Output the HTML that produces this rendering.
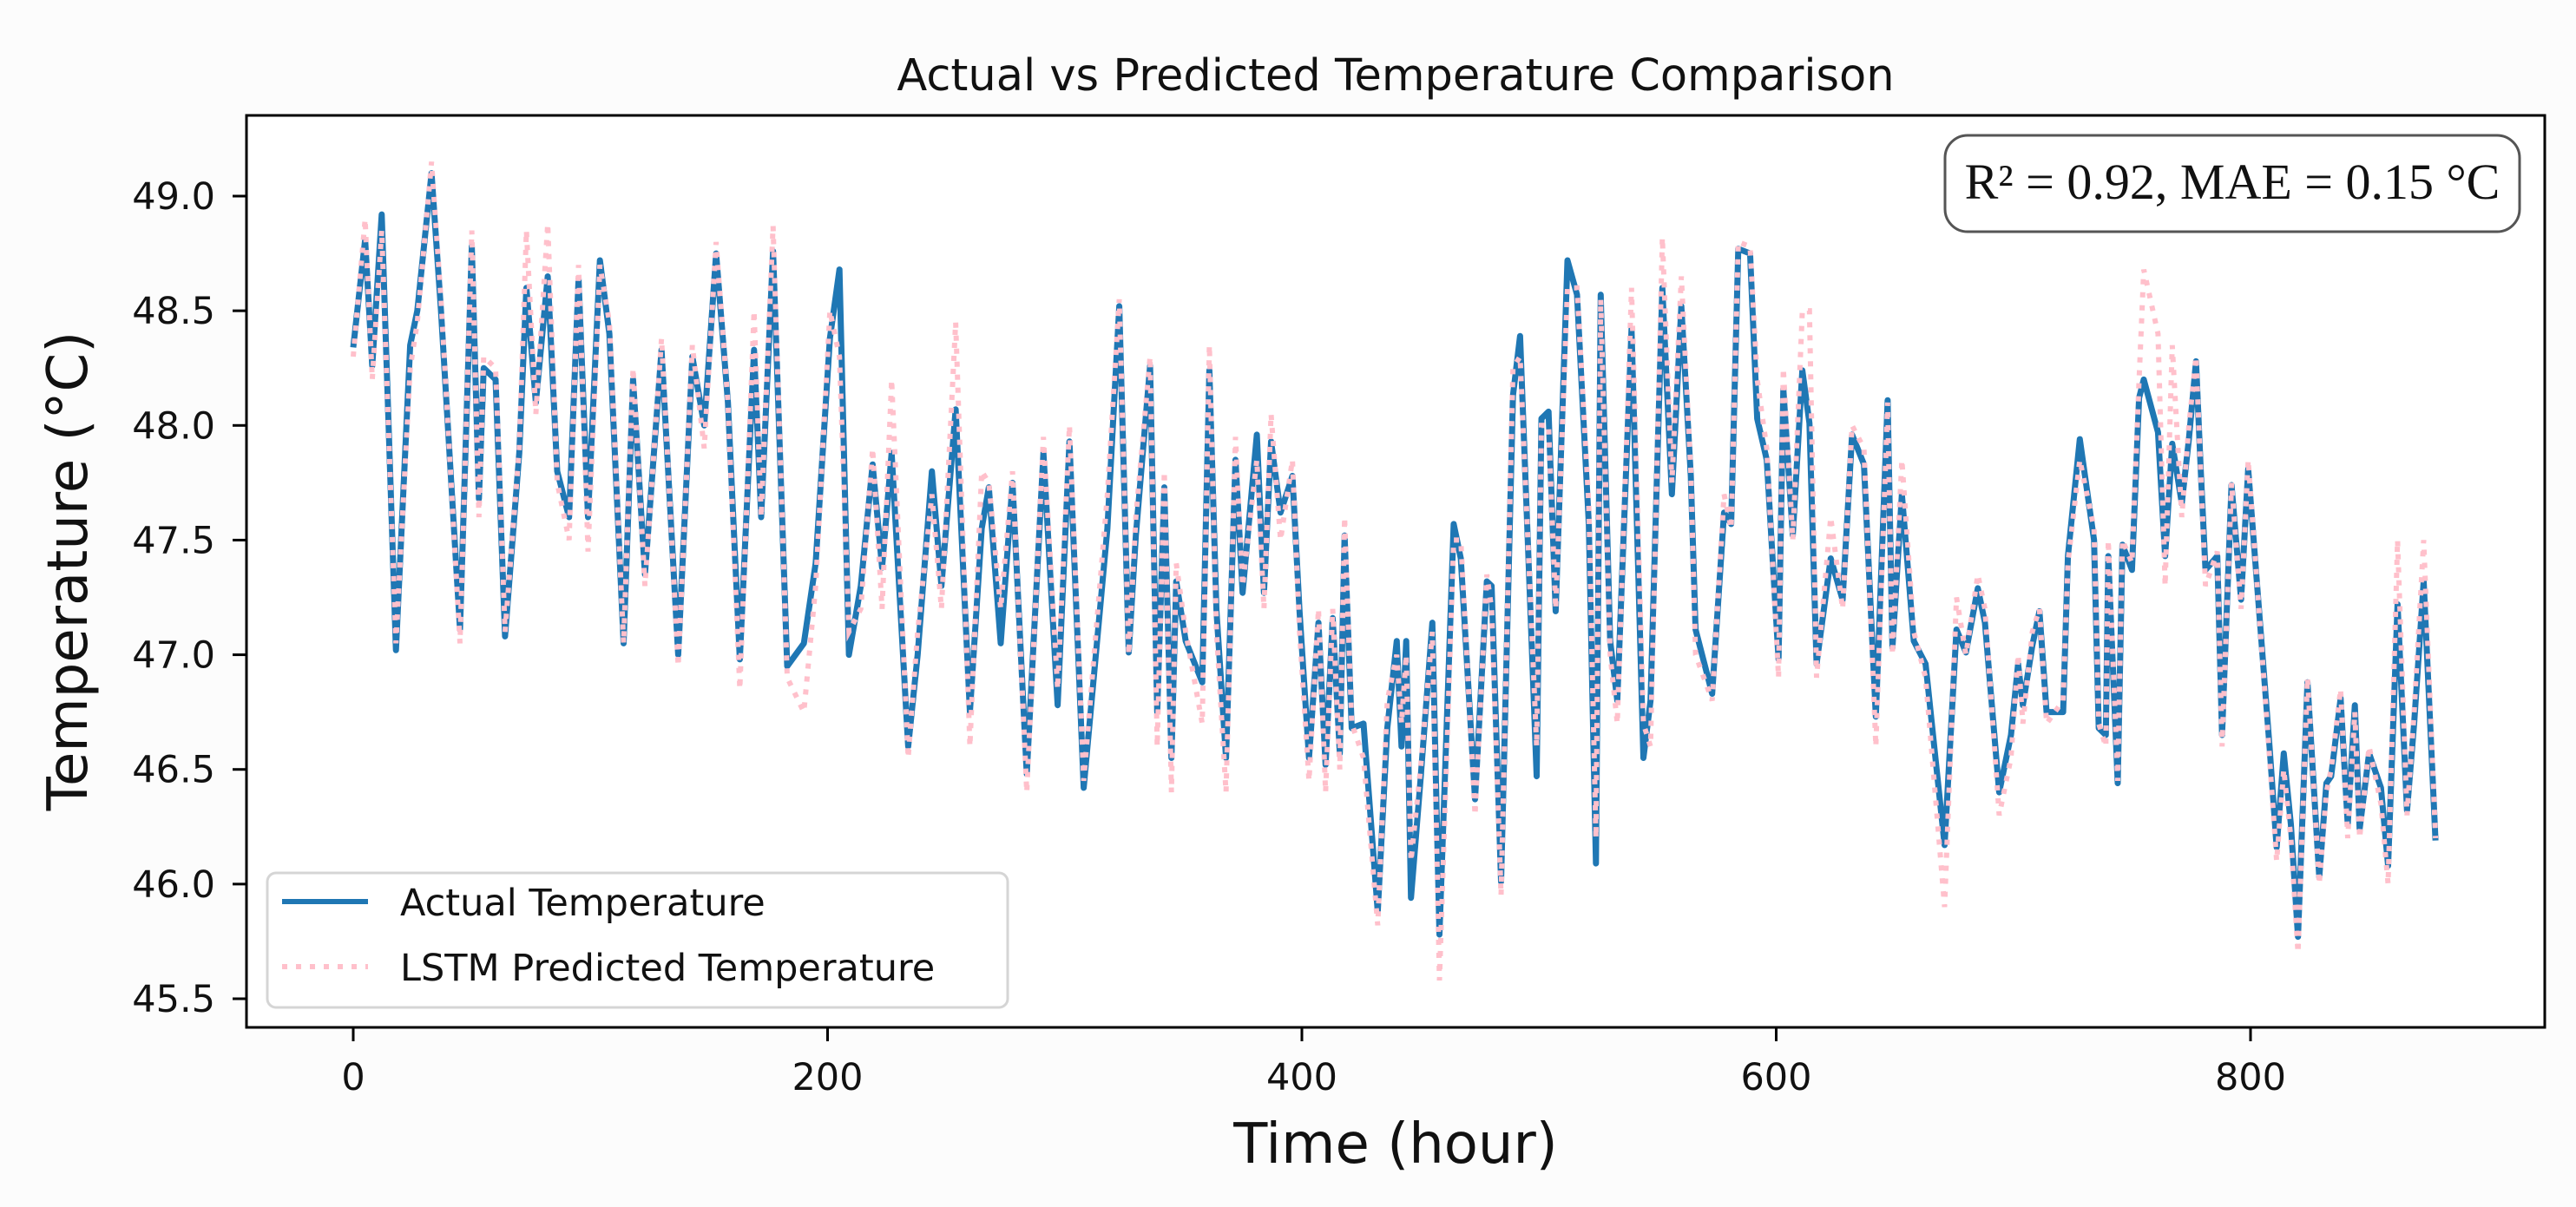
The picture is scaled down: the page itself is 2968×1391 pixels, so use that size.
<!DOCTYPE html>
<html><head><meta charset="utf-8"><style>
html,body{margin:0;padding:0;background:#fcfcfc;}
svg{display:block;}
</style></head><body>
<svg id="chart" width="2968" height="1391" viewBox="0 0 2968 1391" xmlns="http://www.w3.org/2000/svg" font-family="'DejaVu Sans','Liberation Sans',sans-serif">
<rect x="0" y="0" width="2968" height="1391" fill="#fcfcfc"/>
<rect x="284" y="133" width="2648" height="1051" fill="#ffffff"/>
<g id="series"></g>
<g id="axes"></g>
<rect x="284" y="133" width="2648" height="1051" fill="none" stroke="#000" stroke-width="3"/>
<text x="1608" y="104" text-anchor="middle" font-size="51" fill="#111">Actual vs Predicted Temperature Comparison</text>
<text x="1608" y="1340" text-anchor="middle" font-size="64" fill="#111">Time (hour)</text>
<text transform="translate(100,658) rotate(-90)" text-anchor="middle" font-size="64" fill="#111">Temperature (°C)</text>
<g>
<rect x="308" y="1006" width="853" height="155" rx="10" fill="#ffffff" fill-opacity="0.85" stroke="#d5d5d5" stroke-width="3"/>
<line x1="325" y1="1039" x2="424" y2="1039" stroke="#1f77b4" stroke-width="6"/>
<text x="461" y="1055" font-size="43" fill="#111">Actual Temperature</text>
<line x1="325" y1="1114" x2="424" y2="1114" stroke="#ffc0cb" stroke-width="6" stroke-dasharray="6 10"/>
<text x="461" y="1130" font-size="43" fill="#111">LSTM Predicted Temperature</text>
</g>
<g>
<rect x="2241" y="156" width="662" height="111" rx="26" fill="#ffffff" stroke="#555" stroke-width="3"/>
<text x="2572" y="229" text-anchor="middle" font-size="58" font-family="'Liberation Serif',serif" fill="#111">R² = 0.92, MAE = 0.15 °C</text>
</g>
</svg>
<script>
const hours = [0,5,8,12,18,24,27,33,37,45,50,53,55,60,64,70,73,77,82,86,91,95,99,104,108,114,118,123,130,137,143,148,153,158,163,169,172,177,183,190,195,201,205,209,214,219,223,227,234,238,244,248,254,260,265,268,273,278,284,291,297,302,308,318,323,327,330,336,339,342,345,347,351,358,361,364,368,372,375,381,384,387,391,396,399,403,407,410,413,416,418,421,426,432,436,440,442,444,446,450,455,458,464,467,473,478,480,484,489,492,499,501,504,507,512,516,521,524,526,530,533,539,544,547,552,556,560,564,566,573,578,581,584,589,592,596,601,603,607,611,614,617,623,628,632,637,642,647,649,653,658,663,671,676,680,685,688,694,699,702,704,708,711,714,721,723,728,734,736,739,740,744,746,750,753,755,761,764,767,771,774,777,779,781,786,788,792,796,799,808,811,814,817,820,824,829,832,834,838,841,844,846,850,855,858,862,866,869,873,878];
const actualTemp = [48.34,48.81,48.26,48.92,47.02,48.35,48.5,49.1,48.5,47.11,48.78,47.68,48.25,48.2,47.08,47.88,48.6,48.1,48.65,47.8,47.6,48.64,47.6,48.72,48.4,47.05,48.2,47.35,48.33,47.0,48.3,48.0,48.75,48.1,46.98,48.33,47.6,48.76,46.95,47.05,47.4,48.38,48.68,47.0,47.3,47.83,47.38,47.88,46.6,47.0,47.8,47.3,48.07,46.75,47.55,47.73,47.05,47.75,46.48,47.88,46.78,47.93,46.42,47.55,48.52,47.01,47.52,48.26,46.75,47.73,46.55,47.32,47.06,46.88,48.24,47.19,46.55,47.85,47.27,47.96,47.27,47.93,47.62,47.78,47.19,46.55,47.14,46.52,47.16,46.57,47.52,46.68,46.7,45.88,46.68,47.06,46.6,47.06,45.94,46.45,47.14,45.78,47.57,47.42,46.37,47.32,47.3,46.01,48.13,48.39,46.47,48.03,48.06,47.19,48.72,48.57,47.57,46.09,48.57,47.06,46.8,48.42,46.55,46.8,48.6,47.7,48.52,47.78,47.11,46.83,47.62,47.57,48.77,48.75,48.03,47.85,46.98,48.16,47.52,48.24,48.01,46.96,47.42,47.24,47.96,47.83,46.73,48.11,47.03,47.7,47.06,46.96,46.17,47.11,47.01,47.29,47.14,46.4,46.65,46.96,46.78,47.04,47.19,46.75,46.75,47.43,47.94,47.5,46.68,46.65,47.43,46.44,47.48,47.37,48.12,48.2,47.97,47.43,47.92,47.66,47.94,48.28,47.81,47.37,47.43,46.65,47.74,47.24,47.81,46.6,46.16,46.57,46.26,45.77,46.88,46.03,46.44,46.47,46.81,46.26,46.78,46.24,46.57,46.42,46.08,47.22,46.32,46.7,47.32,46.19];
const predictedTemp = [48.3,48.9,48.2,48.85,47.05,48.25,48.45,49.15,48.55,47.05,48.85,47.6,48.3,48.25,47.1,47.9,48.85,48.05,48.88,47.75,47.5,48.7,47.45,48.7,48.45,47.05,48.25,47.3,48.38,46.95,48.35,47.9,48.8,48.1,46.85,48.5,47.6,48.87,46.9,46.75,47.3,48.5,48.3,47.1,47.2,47.9,47.2,48.2,46.55,47.1,47.7,47.2,48.45,46.6,47.8,47.75,47.2,47.8,46.4,47.95,46.85,48.0,46.45,47.7,48.55,47.0,47.6,48.3,46.6,47.8,46.4,47.4,47.1,46.7,48.35,47.1,46.4,47.95,47.3,47.85,47.2,48.05,47.5,47.85,47.1,46.45,47.2,46.4,47.2,46.5,47.6,46.7,46.55,45.82,46.8,47.0,46.7,47.0,46.1,46.5,47.1,45.58,47.5,47.5,46.3,47.35,47.2,45.95,48.25,48.3,46.6,48.0,48.0,47.2,48.6,48.6,47.65,46.2,48.55,47.0,46.7,48.6,46.7,46.6,48.82,47.75,48.65,47.8,47.0,46.8,47.7,47.55,48.8,48.78,48.2,47.9,46.9,48.25,47.5,48.5,48.5,46.9,47.6,47.2,48.0,47.9,46.6,48.1,47.0,47.85,47.1,46.9,45.9,47.25,47.0,47.35,47.2,46.3,46.55,47.0,46.7,47.1,47.2,46.7,46.8,47.4,47.85,47.55,46.7,46.6,47.5,46.45,47.5,47.4,48.2,48.68,48.4,47.3,48.35,47.6,48.0,48.3,47.8,47.3,47.45,46.6,47.75,47.2,47.85,46.55,46.1,46.5,46.2,45.7,46.9,46.0,46.4,46.5,46.85,46.2,46.75,46.2,46.6,46.35,46.0,47.5,46.3,46.75,47.5,46.2];
const xTicks = [0,200,400,600,800];
const yTicks = [45.5,46.0,46.5,47.0,47.5,48.0,48.5,49.0];

const NS = 'http://www.w3.org/2000/svg';
function xScale(t){ return 407 + (t - 0) * (2593 - 407) / 800; }
function yScale(v){ return 226 + (49.0 - v) * (1151 - 226) / 3.5; }
function pathFrom(xs, ys){
  let d = '';
  for (let i = 0; i < xs.length; i++) d += (i ? 'L' : 'M') + xScale(xs[i]).toFixed(1) + ' ' + yScale(ys[i]).toFixed(1);
  return d;
}
const series = document.getElementById('series');
const actualPath = document.createElementNS(NS, 'path');
actualPath.setAttribute('d', pathFrom(hours, actualTemp));
actualPath.setAttribute('fill', 'none');
actualPath.setAttribute('stroke', '#1f77b4');
actualPath.setAttribute('stroke-width', '7');
actualPath.setAttribute('stroke-linejoin', 'round');


series.appendChild(actualPath);
const predPath = document.createElementNS(NS, 'path');
predPath.setAttribute('d', pathFrom(hours, predictedTemp));
predPath.setAttribute('fill', 'none');
predPath.setAttribute('stroke', '#ffc0cb');
predPath.setAttribute('stroke-width', '6');
predPath.setAttribute('stroke-dasharray', '6 9');


series.appendChild(predPath);

const axes = document.getElementById('axes');
for (const t of xTicks) {
  const x = xScale(t);
  const tk = document.createElementNS(NS, 'line');
  tk.setAttribute('x1', x); tk.setAttribute('x2', x);
  tk.setAttribute('y1', 1184); tk.setAttribute('y2', 1200);
  tk.setAttribute('stroke', '#000'); tk.setAttribute('stroke-width', '3');
  
  
  axes.appendChild(tk);
  const lb = document.createElementNS(NS, 'text');
  lb.setAttribute('x', x); lb.setAttribute('y', 1256);
  lb.setAttribute('text-anchor', 'middle'); lb.setAttribute('font-size', '43'); lb.setAttribute('fill', '#111');
  lb.textContent = String(t);
  
  
  axes.appendChild(lb);
}
for (const v of yTicks) {
  const y = yScale(v);
  const tk = document.createElementNS(NS, 'line');
  tk.setAttribute('x1', 268); tk.setAttribute('x2', 284);
  tk.setAttribute('y1', y); tk.setAttribute('y2', y);
  tk.setAttribute('stroke', '#000'); tk.setAttribute('stroke-width', '3');
  
  
  axes.appendChild(tk);
  const lb = document.createElementNS(NS, 'text');
  lb.setAttribute('x', 248); lb.setAttribute('y', y + 15);
  lb.setAttribute('text-anchor', 'end'); lb.setAttribute('font-size', '43'); lb.setAttribute('fill', '#111');
  lb.textContent = v.toFixed(1);
  
  
  axes.appendChild(lb);
}
</script>
</body></html>
